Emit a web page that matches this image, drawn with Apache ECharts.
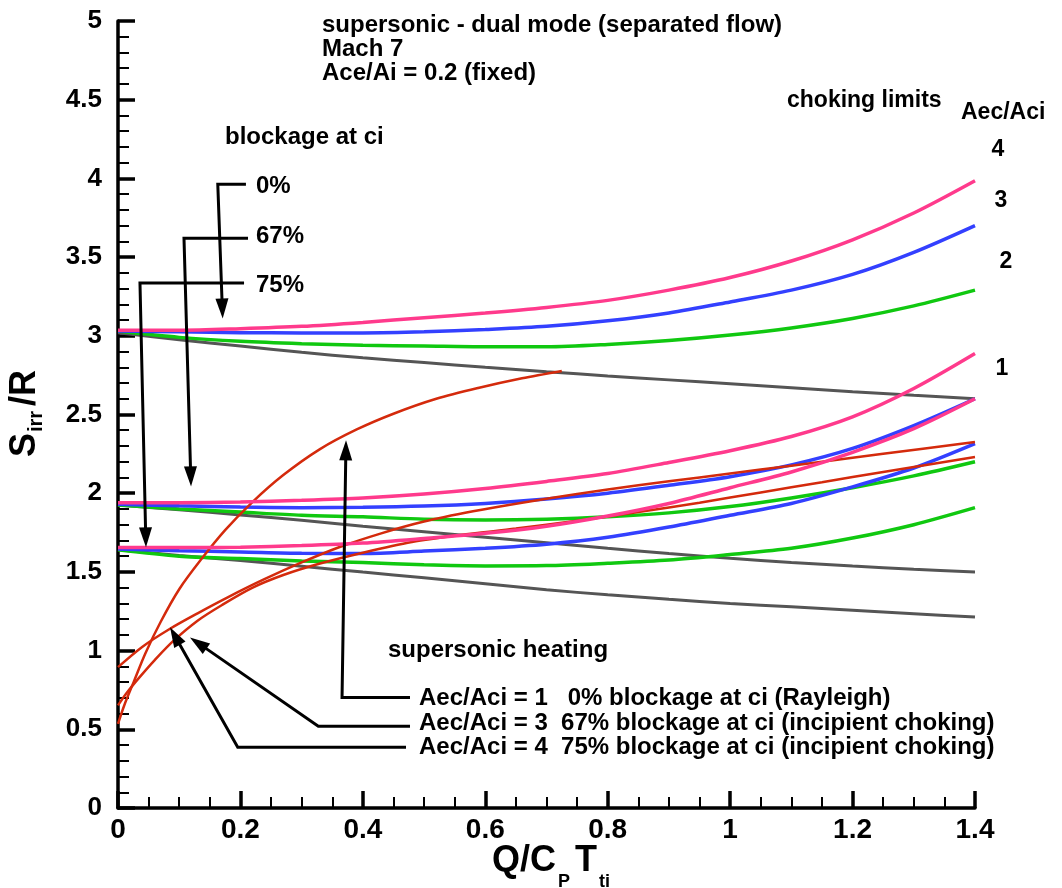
<!DOCTYPE html>
<html><head><meta charset="utf-8">
<script src="https://cdn.jsdelivr.net/npm/echarts@6/dist/echarts.min.js"></script>
<style>html,body{margin:0;padding:0;background:#fff}#c{width:1062px;height:888px}</style>
</head><body><div id="c"></div>
<script>
const FONT = "'Liberation Sans', Arial, Helvetica, sans-serif";

// ---- axis tick labels ----
const xTickLabels = ['0', '0.2', '0.4', '0.6', '0.8', '1', '1.2', '1.4'];
const yTickLabels = ['0', '0.5', '1', '1.5', '2', '2.5', '3', '3.5', '4', '4.5', '5'];

// ---- common heat-addition grid Q/CpTti for the families ----
const q = [0, 0.1, 0.2, 0.3, 0.4, 0.5, 0.6, 0.7, 0.8, 0.9, 1.0, 1.1, 1.2, 1.3, 1.4];

// 0% blockage family (start ~3.03)
const greyA  = [3.02, 2.975, 2.935, 2.895, 2.86, 2.83, 2.80, 2.772, 2.745, 2.72, 2.695, 2.67, 2.645, 2.622, 2.60];
const greenA = [3.03, 2.99, 2.965, 2.95, 2.94, 2.935, 2.93, 2.93, 2.945, 2.97, 3.005, 3.05, 3.11, 3.19, 3.29];
const blueA  = [3.03, 3.025, 3.02, 3.018, 3.018, 3.025, 3.04, 3.06, 3.095, 3.145, 3.215, 3.29, 3.39, 3.53, 3.70];
const pinkA  = [3.035, 3.035, 3.045, 3.06, 3.085, 3.115, 3.145, 3.18, 3.225, 3.29, 3.37, 3.475, 3.61, 3.78, 3.985];

// 67% blockage family (start ~1.93)
const greyB  = [1.925, 1.895, 1.862, 1.828, 1.79, 1.755, 1.72, 1.685, 1.65, 1.617, 1.587, 1.56, 1.537, 1.517, 1.499];
const greenB = [1.925, 1.90, 1.88, 1.86, 1.85, 1.835, 1.83, 1.835, 1.85, 1.875, 1.915, 1.97, 2.035, 2.11, 2.20];
const blueB  = [1.93, 1.92, 1.912, 1.908, 1.91, 1.918, 1.935, 1.963, 2.0, 2.05, 2.105, 2.18, 2.285, 2.43, 2.60];
const pinkB  = [1.94, 1.94, 1.944, 1.955, 1.97, 1.995, 2.03, 2.075, 2.125, 2.195, 2.27, 2.36, 2.485, 2.665, 2.887];

// 75% blockage family (start ~1.65)
const greyC  = [1.64, 1.605, 1.572, 1.536, 1.499, 1.463, 1.425, 1.386, 1.355, 1.326, 1.30, 1.278, 1.256, 1.234, 1.213];
const greenC = [1.64, 1.60, 1.585, 1.57, 1.56, 1.545, 1.538, 1.54, 1.555, 1.575, 1.61, 1.65, 1.715, 1.80, 1.908];
const blueC  = [1.645, 1.635, 1.627, 1.618, 1.617, 1.632, 1.65, 1.676, 1.72, 1.785, 1.86, 1.935, 2.04, 2.16, 2.315];
const pinkC  = [1.655, 1.655, 1.657, 1.667, 1.683, 1.712, 1.745, 1.79, 1.855, 1.935, 2.035, 2.135, 2.26, 2.41, 2.60];

// supersonic heating curves (red)
const rayleighX = [0, 0.01, 0.025, 0.045, 0.07, 0.1, 0.135, 0.175, 0.22, 0.27, 0.33, 0.39, 0.45, 0.52, 0.59, 0.66, 0.725];
const rayleighY = [0.535, 0.65, 0.795, 0.985, 1.185, 1.39, 1.575, 1.765, 1.945, 2.115, 2.28, 2.405, 2.505, 2.60, 2.67, 2.73, 2.777];
const heat75X = [0, 0.04, 0.085, 0.13, 0.18, 0.24, 0.3, 0.36, 0.43, 0.5, 0.58, 0.66, 0.75, 0.85, 0.95, 1.05, 1.15, 1.25, 1.4];
const heat75Y = [0.895, 1.025, 1.139, 1.237, 1.34, 1.455, 1.56, 1.655, 1.745, 1.82, 1.885, 1.94, 1.995, 2.05, 2.10, 2.15, 2.20, 2.25, 2.326];
const heat67X = [0, 0.015, 0.035, 0.06, 0.09, 0.13, 0.17, 0.22, 0.27, 0.33, 0.4, 0.48, 0.56, 0.65, 0.75, 0.85, 0.95, 1.05, 1.15, 1.25, 1.4];
const heat67Y = [0.652, 0.735, 0.83, 0.94, 1.06, 1.19, 1.29, 1.40, 1.48, 1.553, 1.622, 1.69, 1.735, 1.775, 1.825, 1.88, 1.94, 2.005, 2.07, 2.135, 2.23];

// annotation arrows in data coordinates (last point = arrow tip)
const arrowPaths = [
  [[0.209, 3.963], [0.163, 3.963], [0.171, 3.110]],
  [[0.2124, 3.619], [0.1078, 3.619], [0.1193, 2.043]],
  [[0.2059, 3.336], [0.0359, 3.336], [0.0457, 1.656]],
  [[0.477, 0.702], [0.366, 0.702], [0.3725, 2.336]],
  [[0.477, 0.520], [0.3272, 0.520], [0.1176, 1.084]],
  [[0.4705, 0.3865], [0.1956, 0.3865], [0.085, 1.148]]
];

const C = { pink: '#ff3a8c', blue: '#3340ff', green: '#10c810', grey: '#555555', red: '#d42a0c' };

function zip(xs, ys) { return xs.map((x, i) => [x, ys[i]]); }
function curve(xs, ys, color, width, z) {
  return { type: 'line', data: zip(xs, ys), smooth: 0.3, showSymbol: false, symbol: 'none',
    lineStyle: { color: color, width: width }, z: z, silent: true, animation: false };
}

const series = [
  curve(q, greyA, C.grey, 3, 2), curve(q, greyB, C.grey, 3, 2), curve(q, greyC, C.grey, 3, 2),
  curve(q, greenA, C.green, 3.5, 3), curve(q, greenB, C.green, 3.5, 3), curve(q, greenC, C.green, 3.5, 3),
  curve(q, blueA, C.blue, 3.5, 4), curve(q, blueB, C.blue, 3.5, 4), curve(q, blueC, C.blue, 3.5, 4),
  curve(rayleighX, rayleighY, C.red, 2.5, 5), curve(heat75X, heat75Y, C.red, 2.5, 5), curve(heat67X, heat67Y, C.red, 2.5, 5),
  curve(q, pinkA, C.pink, 3.5, 6), curve(q, pinkB, C.pink, 3.5, 6), curve(q, pinkC, C.pink, 3.5, 6),
  {
    type: 'custom', coordinateSystem: 'cartesian2d', silent: true, z: 10, clip: false,
    data: arrowPaths.map(p => p[p.length - 1]), encode: { x: 0, y: 1 },
    renderItem: function (params, api) {
      const pts = arrowPaths[params.dataIndex].map(p => api.coord(p));
      const n = pts.length;
      const x1 = pts[n - 2][0], y1 = pts[n - 2][1], x2 = pts[n - 1][0], y2 = pts[n - 1][1];
      const dx = x2 - x1, dy = y2 - y1, L = Math.hypot(dx, dy), ux = dx / L, uy = dy / L;
      const hl = 20, hw = 6.5;
      const bx = x2 - ux * hl, by = y2 - uy * hl;
      const linePts = pts.slice(0, n - 1).concat([[bx + ux * 2, by + uy * 2]]);
      return { type: 'group', children: [
        { type: 'polyline', shape: { points: linePts }, style: { stroke: '#000', lineWidth: 3, fill: null } },
        { type: 'polygon', shape: { points: [[x2, y2], [bx - uy * hw, by + ux * hw], [bx + uy * hw, by - ux * hw]] },
          style: { fill: '#000' } }
      ] };
    }
  }
];

// free text annotations: [text, x, y, fontSize, align]
const notes = [
  ['supersonic - dual mode (separated flow)', 322, 25, 24, 'left'],
  ['Mach 7', 322, 49, 24, 'left'],
  ['Ace/Ai = 0.2 (fixed)', 322, 73, 24, 'left'],
  ['blockage at ci', 225, 137, 24, 'left'],
  ['0%', 256, 186, 24, 'left'],
  ['67%', 256, 236, 24, 'left'],
  ['75%', 256, 285, 24, 'left'],
  ['choking limits', 787, 101, 23, 'left'],
  ['Aec/Aci', 961, 113, 23, 'left'],
  ['4', 998, 150, 23, 'center'],
  ['3', 1001, 201, 23, 'center'],
  ['2', 1006, 262, 23, 'center'],
  ['1', 1002, 369, 23, 'center'],
  ['supersonic heating', 388, 650, 24, 'left'],
  ['Aec/Aci = 1   0% blockage at ci (Rayleigh)', 419, 698, 24, 'left'],
  ['Aec/Aci = 3  67% blockage at ci (incipient choking)', 419, 723, 24, 'left'],
  ['Aec/Aci = 4  75% blockage at ci (incipient choking)', 419, 747, 24, 'left']
];

function txt(t, x, y, size, align) {
  return { type: 'text', x: x, y: y, silent: true, z: 20,
    style: { text: t, fill: '#000', fontSize: size, fontWeight: 'bold', fontFamily: FONT,
      align: align, verticalAlign: 'middle' } };
}

const graphic = notes.map(n => txt(n[0], n[1], n[2], n[3], n[4]));
// x-axis title Q/C_P T_ti
graphic.push({ type: 'group', x: 492, y: 0, silent: true, children: [
  txt('Q/C', 0, 861, 36, 'left'),
  txt('P', 66, 882, 18, 'left'),
  txt('T', 83, 861, 36, 'left'),
  txt('ti', 107, 882, 18, 'left')
] });
// y-axis title S_irr/R (rotated)
graphic.push({ type: 'group', x: 38, y: 457, rotation: Math.PI / 2, silent: true, children: [
  txt('S', 0, -12.6, 36, 'left'),
  txt('irr', 25, -1.5, 20, 'left'),
  txt('/R', 51, -12.6, 36, 'left')
] });

const axisCommon = {
  axisLine: { show: true, onZero: false, lineStyle: { color: '#000', width: 3.5 } },
  axisTick: { show: true, inside: true, length: 17, lineStyle: { color: '#000', width: 3.5 } },
  splitLine: { show: false },
  minorSplitLine: { show: false }
};

const chart = echarts.init(document.getElementById('c'), null, { renderer: 'canvas' });
chart.setOption({
  animation: false,
  backgroundColor: '#fff',
  grid: { left: 118, right: 87, top: 21, bottom: 80, containLabel: false },
  xAxis: Object.assign({
    type: 'value', min: 0, max: 1.4, interval: 0.2,
    axisLabel: { color: '#000', fontSize: 28, fontWeight: 'bold', fontFamily: FONT, margin: 8,
      formatter: v => xTickLabels[Math.round(v / 0.2)] },
    minorTick: { show: true, splitNumber: 4, length: 11, lineStyle: { color: '#000', width: 2 } }
  }, axisCommon),
  yAxis: Object.assign({
    type: 'value', min: 0, max: 5, interval: 0.5,
    axisLabel: { color: '#000', fontSize: 26, fontWeight: 'bold', fontFamily: FONT, margin: 16,
      formatter: v => yTickLabels[Math.round(v / 0.5)] },
    minorTick: { show: true, splitNumber: 5, length: 11, lineStyle: { color: '#000', width: 2 } }
  }, axisCommon),
  series: series,
  graphic: graphic
});
</script></body></html>
